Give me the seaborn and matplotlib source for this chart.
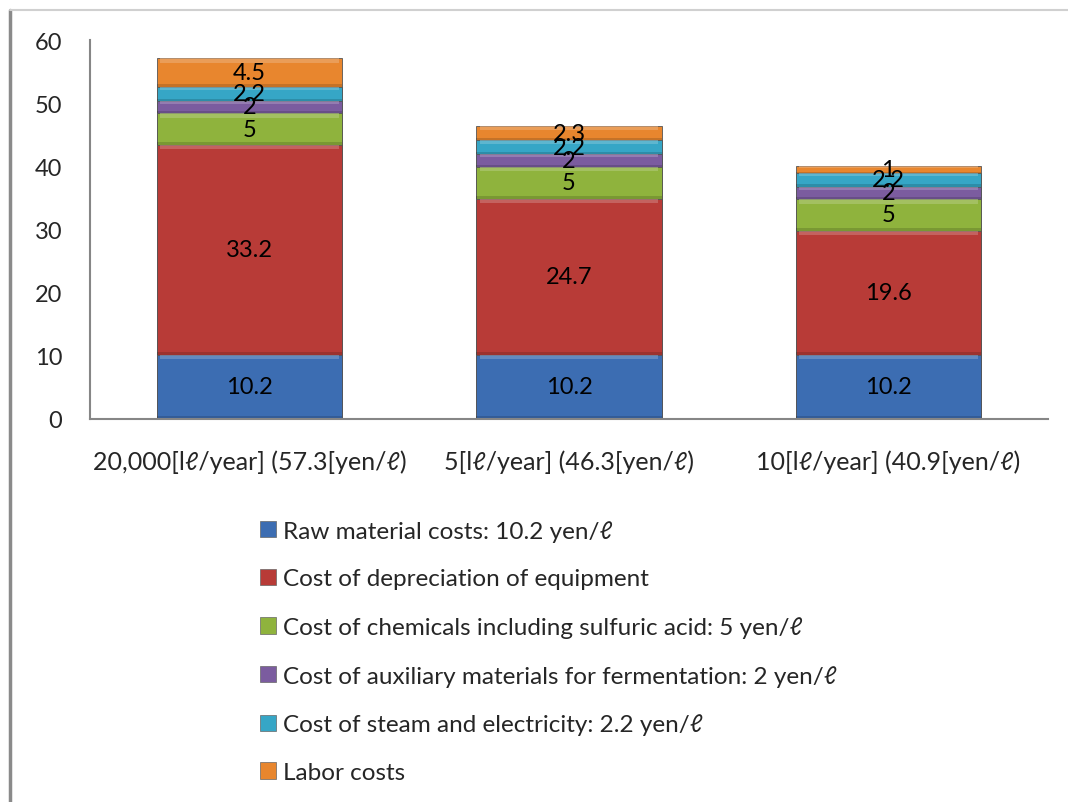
import numpy as np
import matplotlib
matplotlib.use('Agg')
import matplotlib.pyplot as plt
import matplotlib.lines as mlines
import matplotlib.patches as mpatches
import seaborn as sns

categories = ['20,000[lℓ/year] (57.3[yen/ℓ)', '5[lℓ/year] (46.3[yen/ℓ)', '10[lℓ/year] (40.9[yen/ℓ)']
series_names = ['Raw material costs: 10.2 yen/ℓ',
                'Cost of depreciation of equipment',
                'Cost of chemicals including sulfuric acid: 5 yen/ℓ',
                'Cost of auxiliary materials for fermentation: 2 yen/ℓ',
                'Cost of steam and electricity: 2.2 yen/ℓ',
                'Labor costs']
raw_material = [10.2, 10.2, 10.2]
depreciation = [33.2, 24.7, 19.6]
chemicals = [5, 5, 5]
auxiliary = [2, 2, 2]
steam_elec = [2.2, 2.2, 2.2]
labor = [4.5, 2.3, 1]
colors = ['#3c6db2', '#b83b37', '#8fb33d', '#7b5c9f', '#36a6c6', '#e8862e']
y_ticks = [0, 10, 20, 30, 40, 50, 60]

sns.set_theme(style='white')
plt.rcParams['font.family'] = ['Lato', 'DejaVu Sans']
FS_TICK = 17
FS_X = 18
FS_LEG = 17.5

series = [raw_material, depreciation, chemicals, auxiliary, steam_elec, labor]
data = np.array(series, dtype=float)
cum = np.cumsum(data, axis=0)

fig = plt.figure(figsize=(10.68, 8.03), dpi=100)
ax = fig.add_axes([90 / 1068, 1 - 420 / 803, 958 / 1068, (420 - 41) / 803])

# cumulative bars drawn tallest first so each lower segment covers the one above
for i in range(len(series) - 1, -1, -1):
    sns.barplot(x=categories, y=cum[i], color=colors[i], width=0.58, ax=ax,
                saturation=1, edgecolor='#555555', linewidth=0.6)

# bevel-ish shading: lighter band at top, darker band at bottom of each segment
for i in range(len(series)):
    pal = sns.light_palette(colors[i], n_colors=6, reverse=True)
    band = np.minimum(data[i] * 0.25, 0.7)
    ax.bar(range(3), band, bottom=cum[i] - band, width=0.56, color=pal[2],
           alpha=0.55, linewidth=0)
    dband = np.minimum(data[i] * 0.15, 0.4)
    ax.bar(range(3), dband, bottom=cum[i] - data[i], width=0.58, color='black',
           alpha=0.15, linewidth=0)

for i in range(len(series)):
    for j in range(3):
        v = data[i, j]
        ax.text(j, cum[i, j] - v / 2, f'{v:g}', ha='center', va='center',
                fontsize=FS_TICK, color='black')

ax.set_ylim(0, 60)
ax.set_xlim(-0.5, 2.5)
ax.set_yticks(y_ticks)
ax.tick_params(axis='y', labelsize=FS_TICK, pad=20, length=0)
ax.tick_params(axis='x', labelsize=FS_X, pad=22, length=0)
for s in ['top', 'right']:
    ax.spines[s].set_visible(False)
for s in ['left', 'bottom']:
    ax.spines[s].set_color('#868686')
    ax.spines[s].set_linewidth(1.5)
ax.set_xlabel('')
ax.set_ylabel('')

handles = [mpatches.Patch(facecolor=c, edgecolor='#666666', linewidth=0.5) for c in colors]
fig.legend(handles, series_names, loc='upper left',
           bbox_to_anchor=(238 / 1068, 1 - 499 / 803), frameon=False,
           fontsize=FS_LEG, handlelength=0.65, handleheight=0.65, handletextpad=0.3,
           labelspacing=1.1)

# outer chart frame
fig.add_artist(mlines.Line2D([10 / 1068, 10 / 1068], [0, 1 - 11 / 803],
                             color='#8a8a8a', linewidth=2.5))
fig.add_artist(mlines.Line2D([10 / 1068, 1], [1 - 11 / 803, 1 - 11 / 803],
                             color='#d0d0d0', linewidth=1.5))

fig.savefig('out.png', dpi=100)
